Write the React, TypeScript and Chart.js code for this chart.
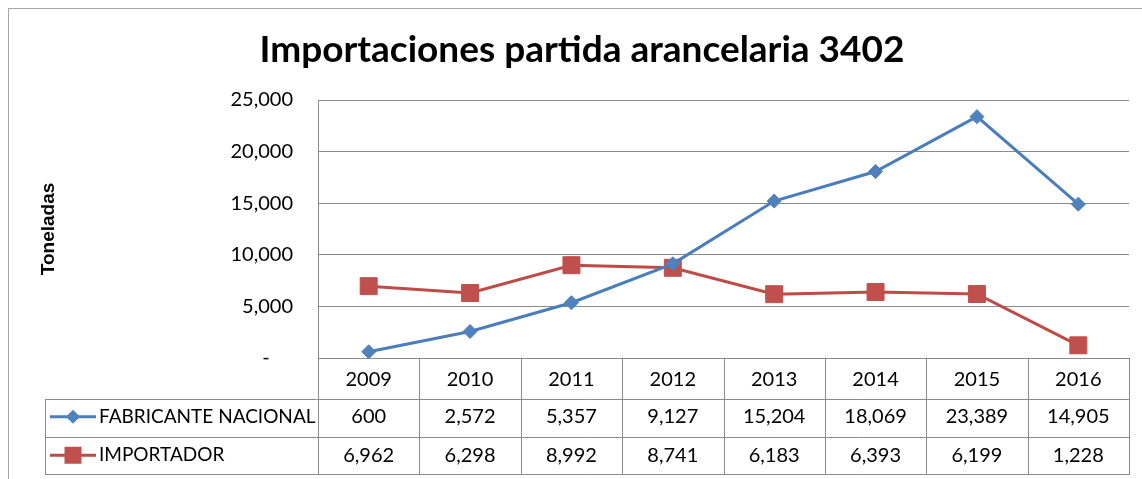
import React, { useEffect, useRef } from 'react';
import { Chart, registerables } from 'chart.js';

Chart.register(...registerables);

const TITLE = 'Importaciones partida arancelaria 3402';
const Y_TITLE = 'Toneladas';
const YEARS = ['2009', '2010', '2011', '2012', '2013', '2014', '2015', '2016'];
const SERIES_NAMES = ['FABRICANTE NACIONAL', 'IMPORTADOR'];
const FABRICANTE = [600, 2572, 5357, 9127, 15204, 18069, 23389, 14905];
const IMPORTADOR = [6962, 6298, 8992, 8741, 6183, 6393, 6199, 1228];
const Y_MIN = 0;
const Y_MAX = 25000;
const Y_STEP = 5000;

const BLUE_LINE = '#4A7EBB';
const BLUE_FILL = '#4F81BD';
const RED_LINE = '#BE4B48';
const RED_FILL = '#C0504D';
const GRID = '#8A8A8A';
const FONT = 'Lato, "Open Sans", sans-serif';

const fmt = (v: number) => v.toLocaleString('en-US');

const framePlugin = {
  id: 'frame',
  beforeDraw(chart: any) {
    const { ctx, width, height } = chart;
    ctx.save();
    ctx.fillStyle = '#fff';
    ctx.fillRect(0, 0, width, height);
    ctx.strokeStyle = '#A6A6A6';
    ctx.lineWidth = 1;
    ctx.strokeRect(8.5, 8.5, width + 10, height + 10);
    ctx.restore();
  },
};

const tablePlugin = {
  id: 'dataTable',
  afterDraw(chart: any) {
    const { ctx, chartArea } = chart;
    const xs = chart.scales.x;
    const n = YEARS.length;
    const left = chartArea.left;
    const right = chartArea.right;
    const colW = (right - left) / n;
    const top = chartArea.bottom;
    const headerBottom = top + 41;
    const rowH = 37.5;
    const r1 = headerBottom + rowH;
    const r2 = r1 + rowH;
    const legendLeft = 45;

    ctx.save();
    ctx.strokeStyle = GRID;
    ctx.lineWidth = 1;
    ctx.beginPath();
    for (let i = 0; i <= n; i++) {
      const px = Math.round(left + i * colW) + 0.5;
      ctx.moveTo(px, top);
      ctx.lineTo(px, Math.round(r2) + 0.5);
    }
    ctx.moveTo(legendLeft + 0.5, Math.round(headerBottom) + 0.5);
    ctx.lineTo(legendLeft + 0.5, Math.round(r2) + 0.5);
    [headerBottom, r1, r2].forEach((y) => {
      ctx.moveTo(legendLeft, Math.round(y) + 0.5);
      ctx.lineTo(Math.round(right) + 1, Math.round(y) + 0.5);
    });
    ctx.stroke();

    ctx.fillStyle = '#000';
    ctx.textAlign = 'center';
    ctx.textBaseline = 'middle';
    ctx.font = `20px ${FONT}`;
    YEARS.forEach((yr, i) => ctx.fillText(yr, xs.getPixelForValue(i), (top + headerBottom) / 2 + 1));
    const rows = [FABRICANTE, IMPORTADOR];
    const rowMid = [(headerBottom + r1) / 2 - 1, (r1 + r2) / 2];
    rows.forEach((vals, ri) => {
      vals.forEach((v, i) => ctx.fillText(fmt(v), xs.getPixelForValue(i), rowMid[ri]));
    });

    // legend keys
    const keyX0 = 50;
    const keyX1 = 96;
    const keyMid = 73;
    ctx.strokeStyle = BLUE_LINE;
    ctx.lineWidth = 3;
    ctx.beginPath();
    ctx.moveTo(keyX0, rowMid[0]);
    ctx.lineTo(keyX1, rowMid[0]);
    ctx.stroke();
    ctx.fillStyle = BLUE_FILL;
    ctx.beginPath();
    ctx.moveTo(keyMid, rowMid[0] - 7);
    ctx.lineTo(keyMid + 7, rowMid[0]);
    ctx.lineTo(keyMid, rowMid[0] + 7);
    ctx.lineTo(keyMid - 7, rowMid[0]);
    ctx.closePath();
    ctx.fill();
    ctx.strokeStyle = RED_LINE;
    ctx.beginPath();
    ctx.moveTo(keyX0, rowMid[1]);
    ctx.lineTo(keyX1, rowMid[1]);
    ctx.stroke();
    ctx.fillStyle = RED_FILL;
    ctx.fillRect(keyMid - 8.5, rowMid[1] - 8.5, 17, 17);

    ctx.fillStyle = '#000';
    ctx.textAlign = 'left';
    ctx.font = `19px ${FONT}`;
    ctx.fillText(SERIES_NAMES[0], 99, rowMid[0]);
    ctx.fillText(SERIES_NAMES[1], 99, rowMid[1]);
    ctx.restore();
  },
};

export default function App() {
  const ref = useRef<HTMLCanvasElement>(null);
  useEffect(() => {
    if (!ref.current) return;
    const chart = new Chart(ref.current, {
      type: 'line',
      data: {
        labels: YEARS,
        datasets: [
          {
            label: SERIES_NAMES[0],
            data: FABRICANTE,
            borderColor: BLUE_LINE,
            backgroundColor: BLUE_FILL,
            borderWidth: 3,
            pointStyle: 'rectRot',
            pointRadius: 7,
            pointBorderWidth: 1,
            pointBorderColor: BLUE_FILL,
            pointBackgroundColor: BLUE_FILL,
            tension: 0,
          },
          {
            label: SERIES_NAMES[1],
            data: IMPORTADOR,
            borderColor: RED_LINE,
            backgroundColor: RED_FILL,
            borderWidth: 3,
            pointStyle: 'rect',
            pointRadius: 12,
            pointBorderWidth: 1,
            pointBorderColor: RED_FILL,
            pointBackgroundColor: RED_FILL,
            tension: 0,
          },
        ],
      },
      options: {
        responsive: false,
        animation: false,
        devicePixelRatio: 1,
        layout: { padding: { left: 32, right: 10, top: 0, bottom: 121 } },
        plugins: {
          legend: { display: false },
          tooltip: { enabled: false },
          title: {
            display: true,
            text: TITLE,
            color: '#000',
            font: { family: FONT, size: 37, weight: 'bold' },
            padding: { top: 28, bottom: 27.6 },
          },
        },
        scales: {
          x: { display: false, offset: true },
          y: {
            min: Y_MIN,
            max: Y_MAX,
            ticks: {
              stepSize: Y_STEP,
              color: '#000',
              font: { family: FONT, size: 20 },
              padding: 25,
              callback: (v: any) => (Number(v) === 0 ? '-\u2007\u2007' : fmt(Number(v))),
            },
            grid: { color: GRID, drawTicks: false, lineWidth: 1 },
            border: { color: GRID },
            title: {
              display: true,
              text: Y_TITLE,
              color: '#000',
              font: { family: '"Liberation Sans", Arial, sans-serif', size: 19, weight: 'bold' },
              padding: { top: 5, bottom: 0 },
            },
            afterFit: (s: any) => {
              s.width = 286;
            },
          },
        },
      },
      plugins: [framePlugin, tablePlugin],
    });
    return () => chart.destroy();
  }, []);
  return (
    <div style={{ position: 'absolute', left: 0, top: 0, width: 1142, height: 479 }}>
      <canvas ref={ref} width={1142} height={479} style={{ display: 'block' }} />
    </div>
  );
}
